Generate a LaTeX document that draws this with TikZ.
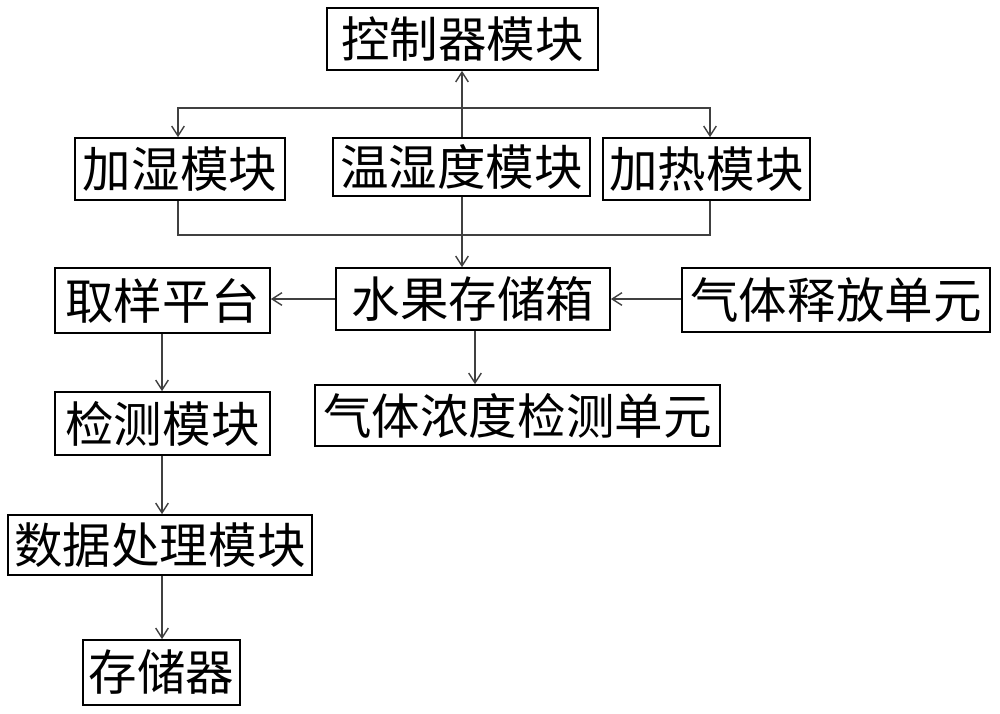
\documentclass[tikz,border=0pt]{standalone}
\usepackage{fontspec}
\setmainfont{Noto Sans CJK SC}
\usetikzlibrary{arrows.meta}
\begin{document}
\begin{tikzpicture}[x=0.025cm,y=-0.025cm,
  bx/.style={draw,line width=1.2pt,inner sep=0pt,font=\fontsize{34.5}{38}\selectfont},
  ln/.style={draw=black!75,line width=1pt},
  ar/.style={ln,-{Straight Barb[length=7pt,width=9pt]}}]
\useasboundingbox (0,0) rectangle (1000,713);
\newcommand\bb[6]{\node[bx,minimum width=(#4-#2)*0.025cm,minimum height=(#5-#3)*0.025cm] (#1) at ({(#2+#4)/2},{(#3+#5)/2}) {#6};}
\bb{ctl}{327}{8}{598}{70}{控制器模块}
\bb{hum}{75}{138}{285}{200}{加湿模块}
\bb{th}{333}{138}{590}{196}{温湿度模块}
\bb{heat}{603}{138}{810}{200}{加热模块}
\bb{samp}{55}{268}{270}{333}{取样平台}
\bb{box}{336}{268}{610}{330}{水果存储箱}
\bb{gas}{682}{268}{990}{332}{气体释放单元}
\bb{gd}{315}{385}{720}{446}{气体浓度检测单元}
\bb{det}{55}{392}{270}{455}{检测模块}
\bb{dp}{8}{515}{312}{575}{数据处理模块}
\bb{mem}{83}{640}{240}{705}{存储器}
\coordinate (j) at (462,108);
\draw[ar] (th.north -| j) -- (ctl.south -| j);
\draw[ar] (j) -| (hum.north -| 178,0);
\draw[ar] (j) -| (heat.north -| 710,0);
\draw[ln] (hum.south -| 178,0) |- (710,235) -- (heat.south -| 710,0);
\draw[ar] (th.south -| j) -- (box.north -| j);
\draw[ar] (box.west) -- (samp.east |- box.west);
\draw[ar] (gas.west |- box.east) -- (box.east);
\draw[ar] (box.south -| 475,0) -- (gd.north -| 475,0);
\draw[ar] (samp.south -| 162,0) -- (det.north -| 162,0);
\draw[ar] (det.south -| 162,0) -- (dp.north -| 162,0);
\draw[ar] (dp.south -| 162,0) -- (mem.north -| 162,0);
\end{tikzpicture}
\end{document}
